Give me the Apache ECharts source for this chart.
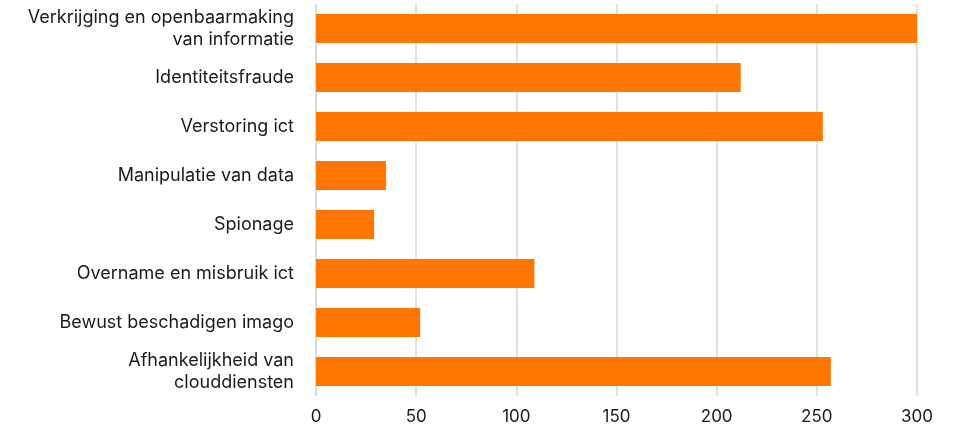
<!DOCTYPE html>
<html><head><meta charset="utf-8">
<script src="https://cdn.jsdelivr.net/npm/echarts@6/dist/echarts.min.js"></script>
<style>html,body{margin:0;padding:0;background:#fff}#c{width:953px;height:429px}</style>
</head><body><div id="c"></div>
<script>
const categories = [
  "Verkrijging en openbaarmaking\nvan informatie",
  "Identiteitsfraude",
  "Verstoring ict",
  "Manipulatie van data",
  "Spionage",
  "Overname en misbruik ict",
  "Bewust beschadigen imago",
  "Afhankelijkheid van\nclouddiensten"
];
const values = [300, 212, 253, 35, 29, 109, 52, 257];
const xTicks = [0, 50, 100, 150, 200, 250, 300];

const chart = echarts.init(document.getElementById('c'));
chart.setOption({
  animation: false,
  grid: {left: 316, right: 36, top: 4, bottom: 33, containLabel: false},
  xAxis: {
    type: 'value', min: xTicks[0], max: xTicks[xTicks.length-1], interval: 50,
    axisLine: {show: false}, axisTick: {show: false},
    splitLine: {show: true, lineStyle: {color: '#d9d9d9', width: 1.5}},
    axisLabel: {color: '#1a1a1a', fontSize: 17, fontFamily: 'Inter', margin: 12}
  },
  yAxis: {
    type: 'category', data: categories, inverse: true,
    axisLine: {show: true, lineStyle: {color: '#d9d9d9', width: 1.5}},
    axisTick: {show: false},
    axisLabel: {color: '#1a1a1a', fontSize: 18, fontFamily: 'Inter', margin: 22, lineHeight: 22, align: 'right'}
  },
  series: [{
    type: 'bar', data: values, barWidth: 29,
    itemStyle: {color: '#ff7700'}
  }]
});
</script></body></html>
